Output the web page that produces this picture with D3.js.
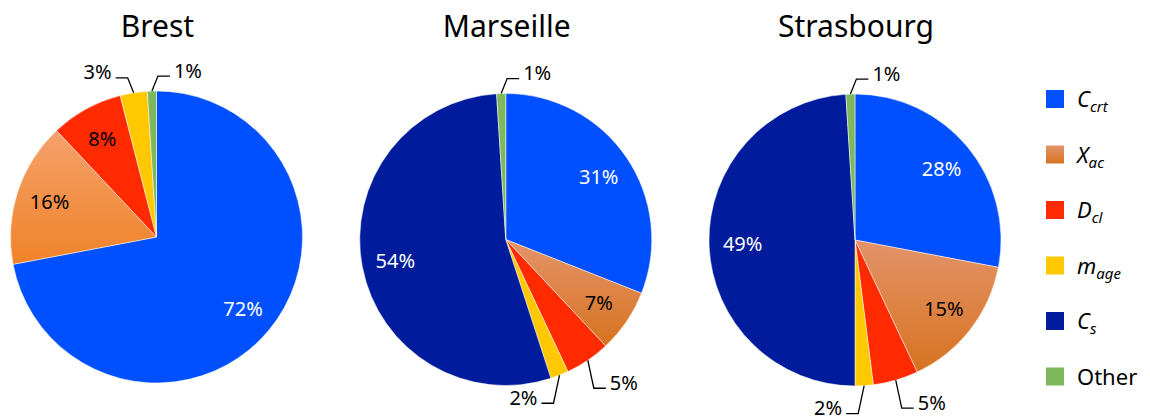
<!DOCTYPE html>
<html lang="en">
<head>
<meta charset="UTF-8">
<script src="https://cdnjs.cloudflare.com/ajax/libs/d3/7.8.5/d3.min.js"></script>
<title>Pie charts</title>
<style>
  body { margin: 0; background: #fff; }
  svg { display: block; font-family: "Noto Sans", sans-serif; }
</style>
</head>
<body>
<div id="chart"></div>
<script>
/* data (percent) */
var cities = ["Brest", "Marseille", "Strasbourg"];
var categories = ["C_crt", "X_ac", "D_cl", "m_age", "C_s", "Other"];
var brest = [72, 16, 8, 3, 0, 1];
var marseille = [31, 7, 5, 2, 54, 1];
var strasbourg = [28, 15, 5, 2, 49, 1];
var cityValues = [brest, marseille, strasbourg];

/* styling */
var colors = ["#0050ff", "url(#xac)", "#ff2a00", "#ffc800", "#001b9c", "#7db95c"];
var xacStops = [["#f5a16c", "#ef8227"], ["#e3936a", "#d7731f"], ["#e3936a", "#d7731f"]];
var whiteText = ["C_crt", "C_s"];
var w = 1150, h = 417;
var r = 146;
var centersY = [237, 239.5, 240];

var svg = d3.select("#chart").append("svg")
  .attr("width", w)
  .attr("height", h);

var defs = svg.append("defs");
xacStops.forEach(function(s, i) {
  var g = defs.append("linearGradient")
    .attr("id", "xac" + i)
    .attr("x1", 0).attr("y1", 0).attr("x2", 0).attr("y2", 1);
  g.append("stop").attr("offset", "0%").attr("stop-color", s[0]);
  g.append("stop").attr("offset", "100%").attr("stop-color", s[1]);
});
// legend swatch gradient
var lg = defs.append("linearGradient").attr("id", "xac")
  .attr("x1", 0).attr("y1", 0).attr("x2", 0).attr("y2", 1);
lg.append("stop").attr("offset", "0%").attr("stop-color", "#e3936a");
lg.append("stop").attr("offset", "100%").attr("stop-color", "#d7731f");

var xPos = d3.scaleLinear().domain([0, 2]).range([156.5, 855]);

var pie = d3.pie().sort(null).value(function(d) { return d.value; });
var arc = d3.arc().innerRadius(0).outerRadius(r);
var labelArc = d3.arc().innerRadius(r * 0.77).outerRadius(r * 0.77);

function fillFor(cat, i) {
  if (cat === "X_ac") return "url(#xac" + i + ")";
  return colors[categories.indexOf(cat)];
}

cities.forEach(function(city, ci) {
  var cx = xPos(ci), cy = centersY[ci];
  var data = categories.map(function(c, k) { return { cat: c, value: cityValues[ci][k] }; });
  var arcs = pie(data);

  var g = svg.append("g").attr("transform", "translate(" + cx + "," + cy + ")");

  svg.append("text")
    .attr("x", cx + 1)
    .attr("y", 37)
    .attr("text-anchor", "middle")
    .attr("font-size", "30px")
    .attr("fill", "#000")
    .text(city);

  g.selectAll("path.slice")
    .data(arcs.filter(function(a) { return a.value > 0; }))
    .enter().append("path")
    .attr("class", "slice")
    .attr("d", arc)
    .attr("fill", function(a) { return fillFor(a.data.cat, ci); })
    .attr("stroke", "#fff")
    .attr("stroke-width", 0.5);

  var shown = arcs.filter(function(a) { return a.value > 0; });
  var inside = shown.filter(function(a) { return a.value >= 6; });
  var outside = shown.filter(function(a) { return a.value < 6; });

  g.selectAll("text.inside")
    .data(inside)
    .enter().append("text")
    .attr("class", "inside")
    .attr("transform", function(a) { return "translate(" + labelArc.centroid(a) + ")"; })
    .attr("text-anchor", "middle")
    .attr("dy", "0.36em")
    .attr("font-size", "20px")
    .attr("fill", function(a) { return whiteText.indexOf(a.data.cat) >= 0 ? "#fff" : "#000"; })
    .text(function(a) { return a.value + "%"; });

  // outside labels with leader lines
  outside.forEach(function(a) {
    var mid = (a.startAngle + a.endAngle) / 2;
    var ex = Math.sin(mid) * r, ey = -Math.cos(mid) * r;
    var top = ey < 0;
    // neighbour outside label decides which side each goes to
    var idx = shown.indexOf(a);
    var nb = outside.filter(function(b) {
      var j = shown.indexOf(b);
      return b !== a && (Math.abs(j - idx) === 1);
    })[0];
    var side = 1;
    if (nb) {
      var nm = (nb.startAngle + nb.endAngle) / 2;
      side = Math.sin(mid) < Math.sin(nm) ? -1 : 1;
    }
    var bx = ex + side * 6;
    var by = ey + (top ? -15 : 28);
    var tx = bx + side * 12;
    g.append("path")
      .attr("d", "M" + ex + "," + ey + "L" + bx + "," + by + "L" + tx + "," + by)
      .attr("fill", "none")
      .attr("stroke", "#000")
      .attr("stroke-width", 1.3);
    g.append("text")
      .attr("x", tx + side * 4)
      .attr("y", by + 1.5)
      .attr("text-anchor", side > 0 ? "start" : "end")
      .attr("font-size", "20px")
      .attr("fill", "#000")
      .text(a.value + "%");
  });
});

/* legend */
var legY = d3.scalePoint().domain(categories).range([99, 376.5]);
var leg = svg.append("g");
categories.forEach(function(c, k) {
  var y = legY(c);
  leg.append("rect")
    .attr("x", 1046).attr("y", y - 9)
    .attr("width", 18).attr("height", 18)
    .attr("fill", colors[k]);
  var parts = c.split("_");
  var t = leg.append("text")
    .attr("x", 1077)
    .attr("y", y + 8)
    .attr("font-size", "22px")
    .attr("fill", "#000");
  if (parts.length > 1) {
    t.append("tspan").attr("font-style", "italic").text(parts[0]);
    t.append("tspan").attr("font-style", "italic")
      .attr("font-size", "15px").attr("dy", 5).text(parts[1]);
  } else {
    t.text(c);
  }
});
</script>
</body>
</html>
